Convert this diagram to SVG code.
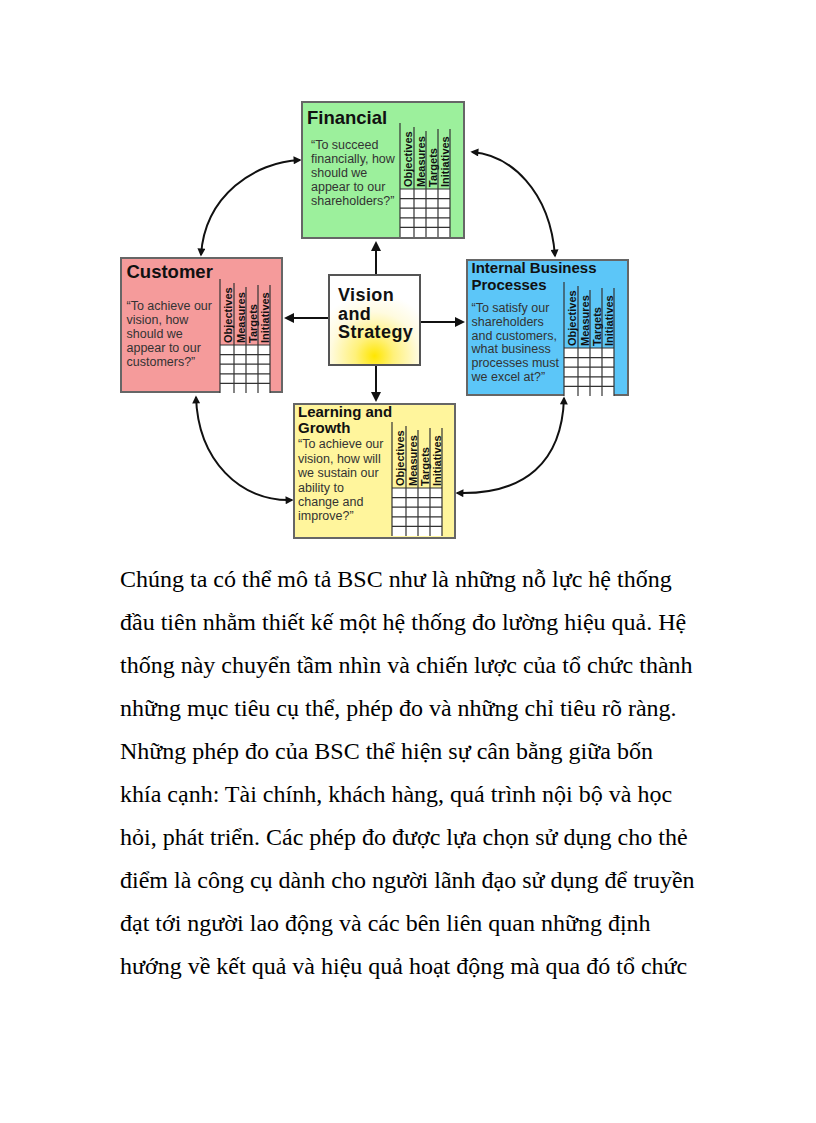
<svg xmlns="http://www.w3.org/2000/svg" xmlns:xlink="http://www.w3.org/1999/xlink" width="816" height="1123" viewBox="0 0 816 1123">
<style>
.box{stroke:#666;stroke-width:2}
.title{font-family:"Liberation Sans",Arial,sans-serif;font-weight:bold;fill:#111}
.t18{font-size:18.5px}
.tv{font-size:18px;letter-spacing:0.4px}
.t15{font-size:15px}
.q{font-family:"Liberation Sans",Arial,sans-serif;font-size:12.5px;fill:#333}
.hd{font-family:"Liberation Sans",Arial,sans-serif;font-size:11px;font-weight:bold;fill:#111}
.gl{stroke:#333;stroke-width:1.2}
.conn{fill:none;stroke:#111;stroke-width:2}
.body{font-family:"Liberation Serif","Times New Roman",serif;font-size:24px;fill:#000}
</style>
<defs>
<marker id="ah" viewBox="0 0 10 10" refX="8" refY="5" markerWidth="9" markerHeight="8" markerUnits="userSpaceOnUse" orient="auto-start-reverse">
<path d="M0,0 L10,5 L0,10 z" fill="#111"/>
</marker>
<marker id="ahb" viewBox="0 0 10 10" refX="8" refY="5" markerWidth="11" markerHeight="10" markerUnits="userSpaceOnUse" orient="auto">
<path d="M0,0 L10,5 L0,10 z" fill="#111"/>
</marker>
<radialGradient id="vg" cx="0.5" cy="0.9" r="0.7" fx="0.5" fy="0.9">
<stop offset="0" stop-color="#ffe600"/>
<stop offset="0.3" stop-color="#fff17a"/>
<stop offset="0.7" stop-color="#fffbe0"/>
<stop offset="1" stop-color="#ffffff"/>
</radialGradient>
<g id="tbl">
<rect x="0" y="0" width="50" height="48" fill="#fff"/>
<line class="gl" x1="0" y1="-66" x2="0" y2="48"/>
<line class="gl" x1="14" y1="-62" x2="14" y2="48"/>
<line class="gl" x1="26" y1="-58" x2="26" y2="48"/>
<line class="gl" x1="38" y1="-60" x2="38" y2="48"/>
<line class="gl" x1="50" y1="-60" x2="50" y2="48"/>
<line class="gl" x1="0" y1="0" x2="50" y2="0"/>
<line class="gl" x1="0" y1="9.6" x2="50" y2="9.6"/>
<line class="gl" x1="0" y1="19.2" x2="50" y2="19.2"/>
<line class="gl" x1="0" y1="28.8" x2="50" y2="28.8"/>
<line class="gl" x1="0" y1="38.4" x2="50" y2="38.4"/>
<text class="hd" transform="translate(12,-2) rotate(-90)">Objectives</text>
<text class="hd" transform="translate(24.5,-2) rotate(-90)">Measures</text>
<text class="hd" transform="translate(36.5,-2) rotate(-90)">Targets</text>
<text class="hd" transform="translate(48.5,-2) rotate(-90)">Initiatives</text>
</g>
</defs>
<rect width="816" height="1123" fill="#fff"/>

<g id="connectors">
<line class="conn" x1="376" y1="275" x2="376" y2="243" marker-end="url(#ahb)"/>
<line class="conn" x1="329" y1="318" x2="286" y2="318" marker-end="url(#ahb)"/>
<line class="conn" x1="420" y1="322" x2="463" y2="322" marker-end="url(#ahb)"/>
<line class="conn" x1="376" y1="365" x2="376" y2="400" marker-end="url(#ahb)"/>
<path class="conn" d="M300,160 C255,162 205,195 201,255" marker-start="url(#ah)" marker-end="url(#ah)"/>
<path class="conn" d="M472,152 C510,155 550,190 555,256" marker-start="url(#ah)" marker-end="url(#ah)"/>
<path class="conn" d="M196,397 C198,460 240,502 292,500" marker-start="url(#ah)" marker-end="url(#ah)"/>
<path class="conn" d="M564,398 C562,462 525,495 457,493" marker-start="url(#ah)" marker-end="url(#ah)"/>
</g>

<g id="financial">
<rect class="box" x="302" y="102" width="162" height="136" fill="#9cf09c"/>
<text class="title t18" x="307" y="124">Financial</text>
<text class="q" x="311" y="149">“To succeed</text>
<text class="q" x="311" y="163">financially, how</text>
<text class="q" x="311" y="177">should we</text>
<text class="q" x="311" y="191">appear to our</text>
<text class="q" x="311" y="205">shareholders?”</text>
<use xlink:href="#tbl" x="400" y="189"/>
</g>

<g id="customer">
<rect class="box" x="121" y="258" width="161" height="134" fill="#f59b9b"/>
<text class="title t18" x="126.5" y="278">Customer</text>
<text class="q" x="126.5" y="310">“To achieve our</text>
<text class="q" x="126.5" y="324">vision, how</text>
<text class="q" x="126.5" y="338">should we</text>
<text class="q" x="126.5" y="352">appear to our</text>
<text class="q" x="126.5" y="366">customers?”</text>
<use xlink:href="#tbl" x="220" y="345"/>
</g>

<g id="internal">
<rect class="box" x="467" y="260" width="161" height="135" fill="#5cc6f8"/>
<text class="title t15" x="471.5" y="273">Internal Business</text>
<text class="title t15" x="471.5" y="290">Processes</text>
<text class="q" x="471.5" y="312">“To satisfy our</text>
<text class="q" x="471.5" y="326">shareholders</text>
<text class="q" x="471.5" y="339.5">and customers,</text>
<text class="q" x="471.5" y="353">what business</text>
<text class="q" x="471.5" y="367">processes must</text>
<text class="q" x="471.5" y="381">we excel at?”</text>
<use xlink:href="#tbl" x="564" y="348"/>
</g>

<g id="learning">
<rect class="box" x="294" y="404" width="161" height="134" fill="#fff59c"/>
<text class="title t15" x="298" y="416.5">Learning and</text>
<text class="title t15" x="298" y="433">Growth</text>
<text class="q" x="298" y="448">“To achieve our</text>
<text class="q" x="298" y="462.5">vision, how will</text>
<text class="q" x="298" y="477">we sustain our</text>
<text class="q" x="298" y="491.5">ability to</text>
<text class="q" x="298" y="506">change and</text>
<text class="q" x="298" y="520">improve?”</text>
<use xlink:href="#tbl" x="392" y="488"/>
</g>

<g id="vision">
<rect x="329" y="275" width="91" height="90" fill="url(#vg)" stroke="#555" stroke-width="2"/>
<text class="title tv" x="338" y="301">Vision</text>
<text class="title tv" x="338" y="319.5">and</text>
<text class="title tv" x="338" y="338">Strategy</text>
</g>

<g id="body-text">
<text class="body" x="120" y="587">Chúng ta có thể mô tả BSC như là những nỗ lực hệ thống</text>
<text class="body" x="120" y="630">đầu tiên nhằm thiết kế một hệ thống đo lường hiệu quả. Hệ</text>
<text class="body" x="120" y="673">thống này chuyển tầm nhìn và chiến lược của tổ chức thành</text>
<text class="body" x="120" y="716">những mục tiêu cụ thể, phép đo và những chỉ tiêu rõ ràng.</text>
<text class="body" x="120" y="759">Những phép đo của BSC thể hiện sự cân bằng giữa bốn</text>
<text class="body" x="120" y="802">khía cạnh: Tài chính, khách hàng, quá trình nội bộ và học</text>
<text class="body" x="120" y="845">hỏi, phát triển. Các phép đo được lựa chọn sử dụng cho thẻ</text>
<text class="body" x="120" y="888">điểm là công cụ dành cho người lãnh đạo sử dụng để truyền</text>
<text class="body" x="120" y="931">đạt tới người lao động và các bên liên quan những định</text>
<text class="body" x="120" y="974">hướng về kết quả và hiệu quả hoạt động mà qua đó tổ chức</text>
</g>
</svg>
